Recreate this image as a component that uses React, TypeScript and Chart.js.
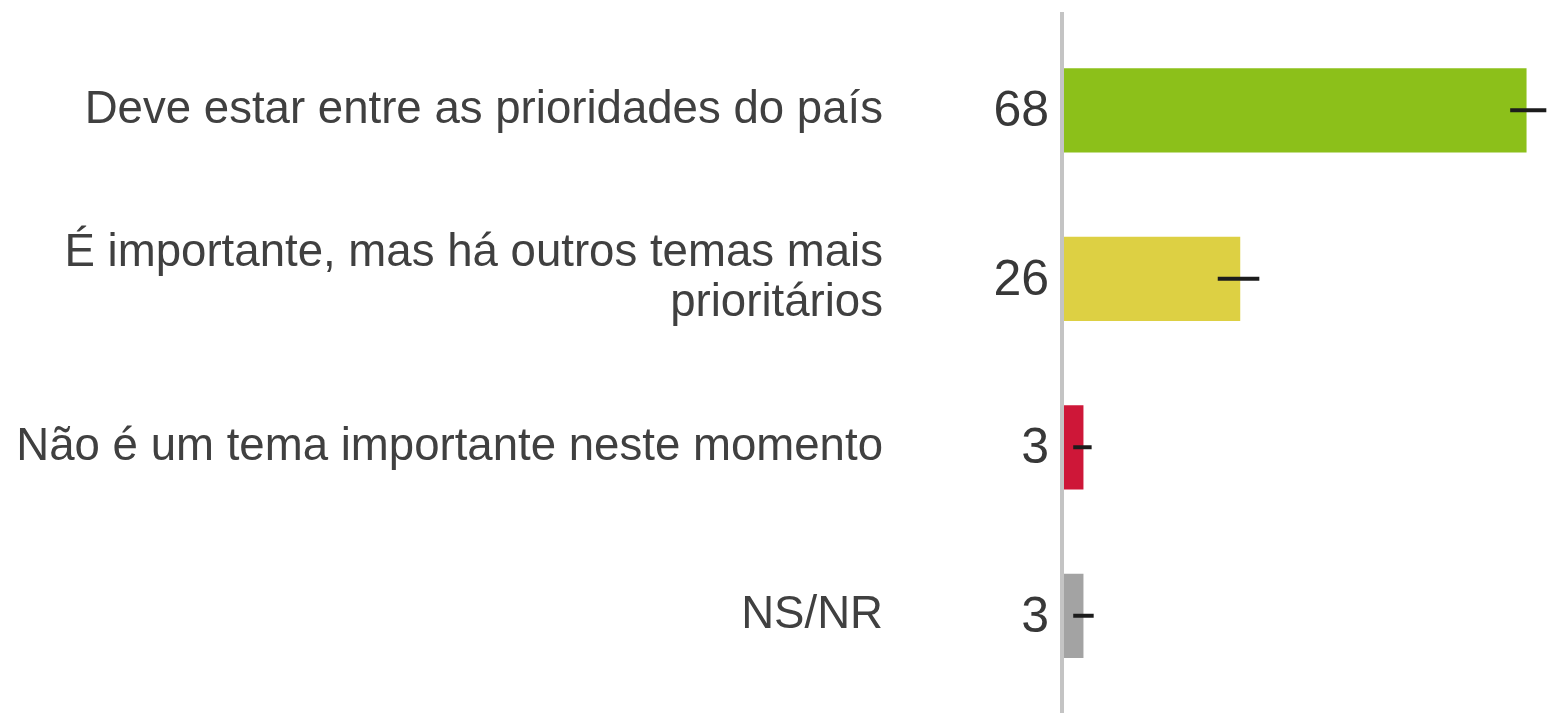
import React, { useEffect, useRef } from "react";
import { Chart, registerables } from "chart.js";

Chart.register(...registerables);

const categories: (string | string[])[] = [
  "Deve estar entre as prioridades do país",
  ["É importante, mas há outros temas mais", "prioritários"],
  "Não é um tema importante neste momento",
  "NS/NR",
];
const values = [68, 26, 3, 3];
const errorLow = [65.6, 22.7, 1.5, 1.5];
const errorHigh = [70.9, 28.8, 4.2, 4.5];
const barColors = ["#8cc01a", "#ddd043", "#ce1738", "#a3a3a3"];
const valueLabels = ["68", "26", "3", "3"];

const FONT = "'Liberation Sans', Arial, sans-serif";

const overlayPlugin = {
  id: "overlay",
  afterDatasetsDraw(chart: any) {
    const { ctx, scales } = chart;
    const x = scales.x;
    const y = scales.y;
    ctx.save();
    // axis line
    const x0 = x.getPixelForValue(0);
    ctx.strokeStyle = "#c4c4c4";
    ctx.lineWidth = 4;
    ctx.beginPath();
    ctx.moveTo(x0 - 1, 12);
    ctx.lineTo(x0 - 1, chart.height);
    ctx.stroke();
    // error bars and value labels
    values.forEach((v, i) => {
      const yc = y.getPixelForValue(i);
      ctx.strokeStyle = "#1c1c1c";
      ctx.lineWidth = 4;
      ctx.beginPath();
      ctx.moveTo(x.getPixelForValue(errorLow[i]), yc);
      ctx.lineTo(x.getPixelForValue(errorHigh[i]), yc);
      ctx.stroke();
      ctx.fillStyle = "#383838";
      ctx.font = `50px ${FONT}`;
      ctx.textAlign = "right";
      ctx.textBaseline = "middle";
      ctx.fillText(valueLabels[i], x0 - 14, yc + 2);
    });
    ctx.restore();
  },
};

export default function App() {
  const ref = useRef<HTMLCanvasElement>(null);
  useEffect(() => {
    document.body.style.margin = "0";
    const chart = new Chart(ref.current!, {
      type: "bar",
      data: {
        labels: categories as any,
        datasets: [
          {
            data: values,
            backgroundColor: barColors,
            barPercentage: 0.5,
            categoryPercentage: 1,
            borderWidth: 0,
          },
        ],
      },
      options: {
        indexAxis: "y",
        animation: false,
        responsive: true,
        maintainAspectRatio: false,
        layout: { padding: { top: 26, bottom: 13, left: 0, right: 0 } },
        plugins: { legend: { display: false }, tooltip: { enabled: false } },
        scales: {
          x: { display: false, min: 0, max: 71 },
          y: {
            grid: { display: false, drawTicks: false },
            border: { display: false },
            afterFit(scale: any) {
              scale.width = 1063;
              scale.paddingTop = 0;
              scale.paddingBottom = 0;
            },
            ticks: {
              padding: 180,
              color: "#404040",
              font: { family: FONT, size: 45.6, lineHeight: 1.1 },
            },
          },
        },
      },
      plugins: [overlayPlugin],
    });
    return () => chart.destroy();
  }, []);
  return (
    <div style={{ position: "absolute", left: 0, top: 0, width: 1547, height: 713 }}>
      <canvas ref={ref} />
    </div>
  );
}
